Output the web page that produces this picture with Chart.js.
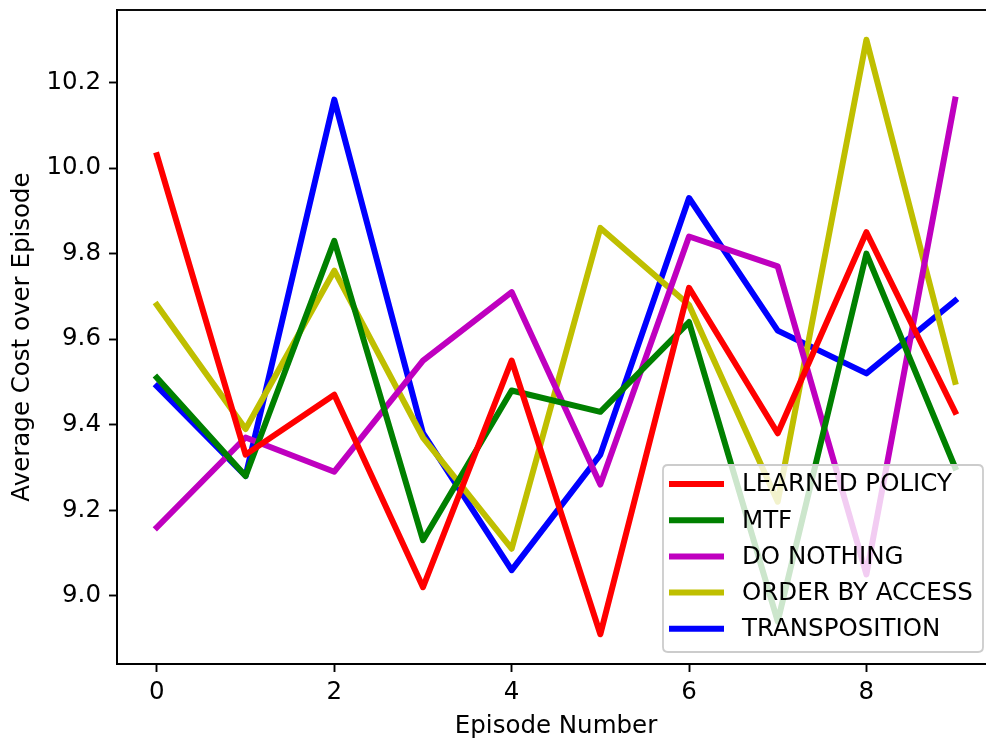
<!DOCTYPE html>
<html>
<head>
<meta charset="utf-8">
<script src="https://cdn.jsdelivr.net/npm/chart.js@4/dist/chart.umd.min.js"></script>
<style>
  html, body { margin: 0; padding: 0; background: #fff; overflow: hidden; }
  #wrap { width: 996px; height: 744px; }
</style>
</head>
<body>
<div id="wrap"><canvas id="c" width="996" height="744"></canvas></div>
<script>
const episodes = [0, 1, 2, 3, 4, 5, 6, 7, 8, 9];
const learnedPolicy = [10.03, 9.33, 9.47, 9.02, 9.55, 8.91, 9.72, 9.38, 9.85, 9.43];
const mtf = [9.51, 9.28, 9.83, 9.13, 9.48, 9.43, 9.64, 8.94, 9.80, 9.30];
const doNothing = [9.16, 9.37, 9.29, 9.55, 9.71, 9.26, 9.84, 9.77, 9.05, 10.16];
const orderByAccess = [9.68, 9.39, 9.76, 9.37, 9.11, 9.86, 9.68, 9.22, 10.30, 9.50];
const transposition = [9.49, 9.28, 10.16, 9.38, 9.06, 9.33, 9.93, 9.62, 9.52, 9.69];

const seriesNames = ['LEARNED POLICY', 'MTF', 'DO NOTHING', 'ORDER BY ACCESS', 'TRANSPOSITION'];
const seriesColors = ['#ff0000', '#008000', '#bf00bf', '#bfbf00', '#0000ff'];
const xTicks = [0, 2, 4, 6, 8];
const yTicks = [9.0, 9.2, 9.4, 9.6, 9.8, 10.0, 10.2];

const FONT = "'DejaVu Sans', sans-serif";
const FS = 24.5;
const allSeries = [learnedPolicy, mtf, doNothing, orderByAccess, transposition];

const datasets = allSeries.map((vals, i) => ({
  label: seriesNames[i],
  data: episodes.map((x, j) => ({ x: x, y: vals[j] })),
  borderColor: seriesColors[i],
  backgroundColor: seriesColors[i],
  borderWidth: 6,
  borderJoinStyle: 'round',
  borderCapStyle: 'square',
  pointRadius: 0,
  pointHoverRadius: 0,
  tension: 0,
  fill: false
}));

const frameAndLegend = {
  id: 'frameAndLegend',
  afterDatasetsDraw(chart) {
    const ctx = chart.ctx;
    const a = chart.chartArea;
    ctx.save();
    ctx.strokeStyle = '#000';
    ctx.lineWidth = 1.9;
    ctx.strokeRect(a.left, a.top, a.right - a.left, a.bottom - a.top);
    ctx.restore();

    // legend (lower right, inside axes)
    const bx = 663, by = 465, bw = 320, bh = 187, r = 5;
    ctx.save();
    ctx.beginPath();
    ctx.moveTo(bx + r, by);
    ctx.lineTo(bx + bw - r, by);
    ctx.quadraticCurveTo(bx + bw, by, bx + bw, by + r);
    ctx.lineTo(bx + bw, by + bh - r);
    ctx.quadraticCurveTo(bx + bw, by + bh, bx + bw - r, by + bh);
    ctx.lineTo(bx + r, by + bh);
    ctx.quadraticCurveTo(bx, by + bh, bx, by + bh - r);
    ctx.lineTo(bx, by + r);
    ctx.quadraticCurveTo(bx, by, bx + r, by);
    ctx.closePath();
    ctx.fillStyle = 'rgba(255,255,255,0.8)';
    ctx.fill();
    ctx.strokeStyle = '#cccccc';
    ctx.lineWidth = 1.8;
    ctx.stroke();

    ctx.font = FS + 'px ' + FONT;
    ctx.textBaseline = 'middle';
    ctx.textAlign = 'left';
    chart.data.datasets.forEach((ds, i) => {
      const y = 484 + i * 36.2;
      ctx.strokeStyle = ds.borderColor;
      ctx.lineWidth = 6;
      ctx.lineCap = 'butt';
      ctx.beginPath();
      ctx.moveTo(669, y);
      ctx.lineTo(724, y);
      ctx.stroke();
      ctx.fillStyle = '#000';
      ctx.fillText(ds.label, 742, y + 1);
    });
    ctx.restore();
  }
};

new Chart(document.getElementById('c'), {
  type: 'line',
  data: { datasets: datasets },
  options: {
    responsive: false,
    devicePixelRatio: 1,
    animation: false,
    layout: { padding: { top: 10, right: 1, left: 0, bottom: 0 } },
    plugins: { legend: { display: false }, tooltip: { enabled: false } },
    scales: {
      x: {
        type: 'linear',
        min: -0.45,
        max: 9.45,
        afterFit(s) { s.height = 80; s.paddingLeft = 0; s.paddingRight = 0; },
        afterBuildTicks(s) { s.ticks = xTicks.map(v => ({ value: v })); },
        border: { display: true, color: '#000', width: 1.9 },
        grid: { display: true, drawOnChartArea: false, drawTicks: true, tickLength: 8, tickColor: '#000', tickWidth: 1.9 },
        ticks: { color: '#000', font: { family: FONT, size: FS }, padding: 6, maxRotation: 0, autoSkip: false, callback: v => String(v) },
        title: { display: true, text: 'Episode Number', color: '#000', font: { family: FONT, size: FS }, padding: { top: 0, bottom: 3 } }
      },
      y: {
        type: 'linear',
        min: 8.8405,
        max: 10.3695,
        afterFit(s) { s.width = 117; s.paddingTop = 0; s.paddingBottom = 0; },
        afterBuildTicks(s) { s.ticks = yTicks.map(v => ({ value: v })); },
        border: { display: true, color: '#000', width: 1.9 },
        grid: { display: true, drawOnChartArea: false, drawTicks: true, tickLength: 8, tickColor: '#000', tickWidth: 1.9 },
        ticks: { color: '#000', font: { family: FONT, size: FS }, padding: 8, autoSkip: false, callback: v => Number(v).toFixed(1) },
        title: { display: true, text: 'Average Cost over Episode', color: '#000', font: { family: FONT, size: FS }, padding: { top: 8, bottom: 0 } }
      }
    }
  },
  plugins: [frameAndLegend]
});
</script>
</body>
</html>
